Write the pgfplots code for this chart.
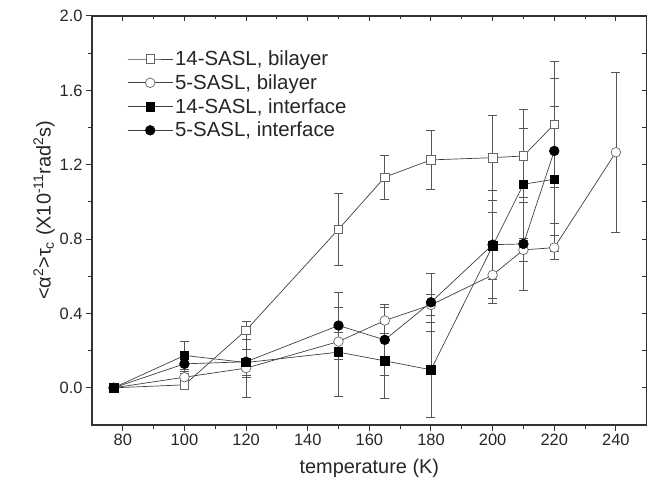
\documentclass[border=0pt]{standalone}
\usepackage{fontspec}
\setmainfont{Liberation Sans}
\usepackage{pgfplots}
\pgfplotsset{compat=1.18}

\pgfplotstableread{
T    v      e
77   0      0
100  0.016  0.02
120  0.31   0.05
150  0.853  0.195
165  1.133  0.117
180  1.226  0.157
200  1.238  0.23
210  1.247  0.25
220  1.418  0.34
}\bilayerfourteen
\pgfplotstableread{
T    v      e
77   0      0
100  0.057  0.03
120  0.106  0.05
150  0.249  0.05
165  0.362  0.07
180  0.446  0.057
200  0.607  0.15
210  0.742  0.06
220  0.754  0.065
240  1.267  0.43
}\bilayerfive
\pgfplotstableread{
T    v      e
77   0      0
100  0.174  0.075
120  0.136  0.07
150  0.192  0.24
165  0.145  0.2
180  0.097  0.254
200  0.763  0.18
210  1.095  0.30
220  1.122  0.39
}\interfourteen
\pgfplotstableread{
T    v      e
77   0      0
100  0.129  0.05
120  0.14   0.19
150  0.335  0.18
165  0.258  0.19
180  0.46   0.155
200  0.77   0.29
210  0.774  0.25
220  1.274  0.39
}\interfive

\definecolor{framegray}{HTML}{333333}
\definecolor{linegray}{HTML}{404040}
\definecolor{errgray}{HTML}{555555}

\begin{document}
\begin{tikzpicture}
\pgfplotsset{
  common/.style={
    scale only axis, width=554.7bp, height=409bp,
    at={(0,0)}, anchor=south west,
    xmin=70, xmax=250, ymin=-0.2, ymax=2.0,
    xtick={80,100,...,240}, minor x tick num=1,
    ytick={0,0.4,...,2.0}, minor y tick num=1,
    axis line style={framegray, line width=1.3bp},
    every tick/.style={framegray, line width=1bp},
    major tick length=6bp, minor tick length=3.5bp,
  },
}
\begin{axis}[common,
  tick align=outside, xtick pos=left, ytick pos=left,
  ticklabel style={font=\fontsize{16.5}{19}\selectfont, text=black!85},
  /pgf/number format/assume math mode=true,
  yticklabel style={/pgf/number format/.cd, fixed, fixed zerofill, precision=1},
  xlabel={temperature (K)},
  ylabel={<α\textsuperscript{2}>τ\textsubscript{c} (X10\textsuperscript{-11}rad\textsuperscript{2}s)},
  label style={font=\fontsize{20}{24}\selectfont, text=black!85},
  xlabel style={yshift=-6bp},
  ylabel style={at={(ticklabel cs:0.525)}, yshift=-2bp},
  legend style={draw=none, fill=none, at={(0.058,0.925)}, anchor=north west,
    font=\fontsize{20.5}{25}\selectfont, text=black!85,
    cells={anchor=west}, row sep=3.5bp},
  legend image code/.code={
    \draw[mark repeat=2, mark phase=2] plot coordinates {(0bp,0bp) (22.5bp,0bp) (45bp,0bp)};},
  every axis plot/.append style={linegray, line width=0.7bp},
  error bars/y dir=both, error bars/y explicit,
  error bars/error bar style={errgray, line width=0.7bp},
  error bars/error mark options={errgray, line width=0.7bp, mark size=4.5bp, rotate=90},
]
\addplot[mark=square*, mark size=4.3bp, mark options={fill=white, draw=black!60, line width=0.7bp}]
  table[x=T, y=v, y error=e] {\bilayerfourteen};
\addplot[mark=*, mark size=4.8bp, mark options={fill=white, draw=black!60, line width=0.7bp}]
  table[x=T, y=v, y error=e] {\bilayerfive};
\addplot[mark=square*, mark size=4.3bp, mark options={fill=black, draw=black}]
  table[x=T, y=v, y error=e] {\interfourteen};
\addplot[mark=*, mark size=4.8bp, mark options={fill=black, draw=black}]
  table[x=T, y=v, y error=e] {\interfive};
\legend{{14-SASL, bilayer}, {5-SASL, bilayer}, {14-SASL, interface}, {5-SASL, interface}}
\end{axis}
\begin{axis}[common,
  tick align=inside, xtick pos=right, ytick pos=right,
  ytick={-0.2,0,...,2.0}, minor y tick num=0,
  major tick length=5bp,
  xticklabels={}, yticklabels={},
]
\end{axis}
\pgfresetboundingbox
\path[use as bounding box] (-92bp,-64bp) rectangle (556bp,425bp);
\end{tikzpicture}
\end{document}
